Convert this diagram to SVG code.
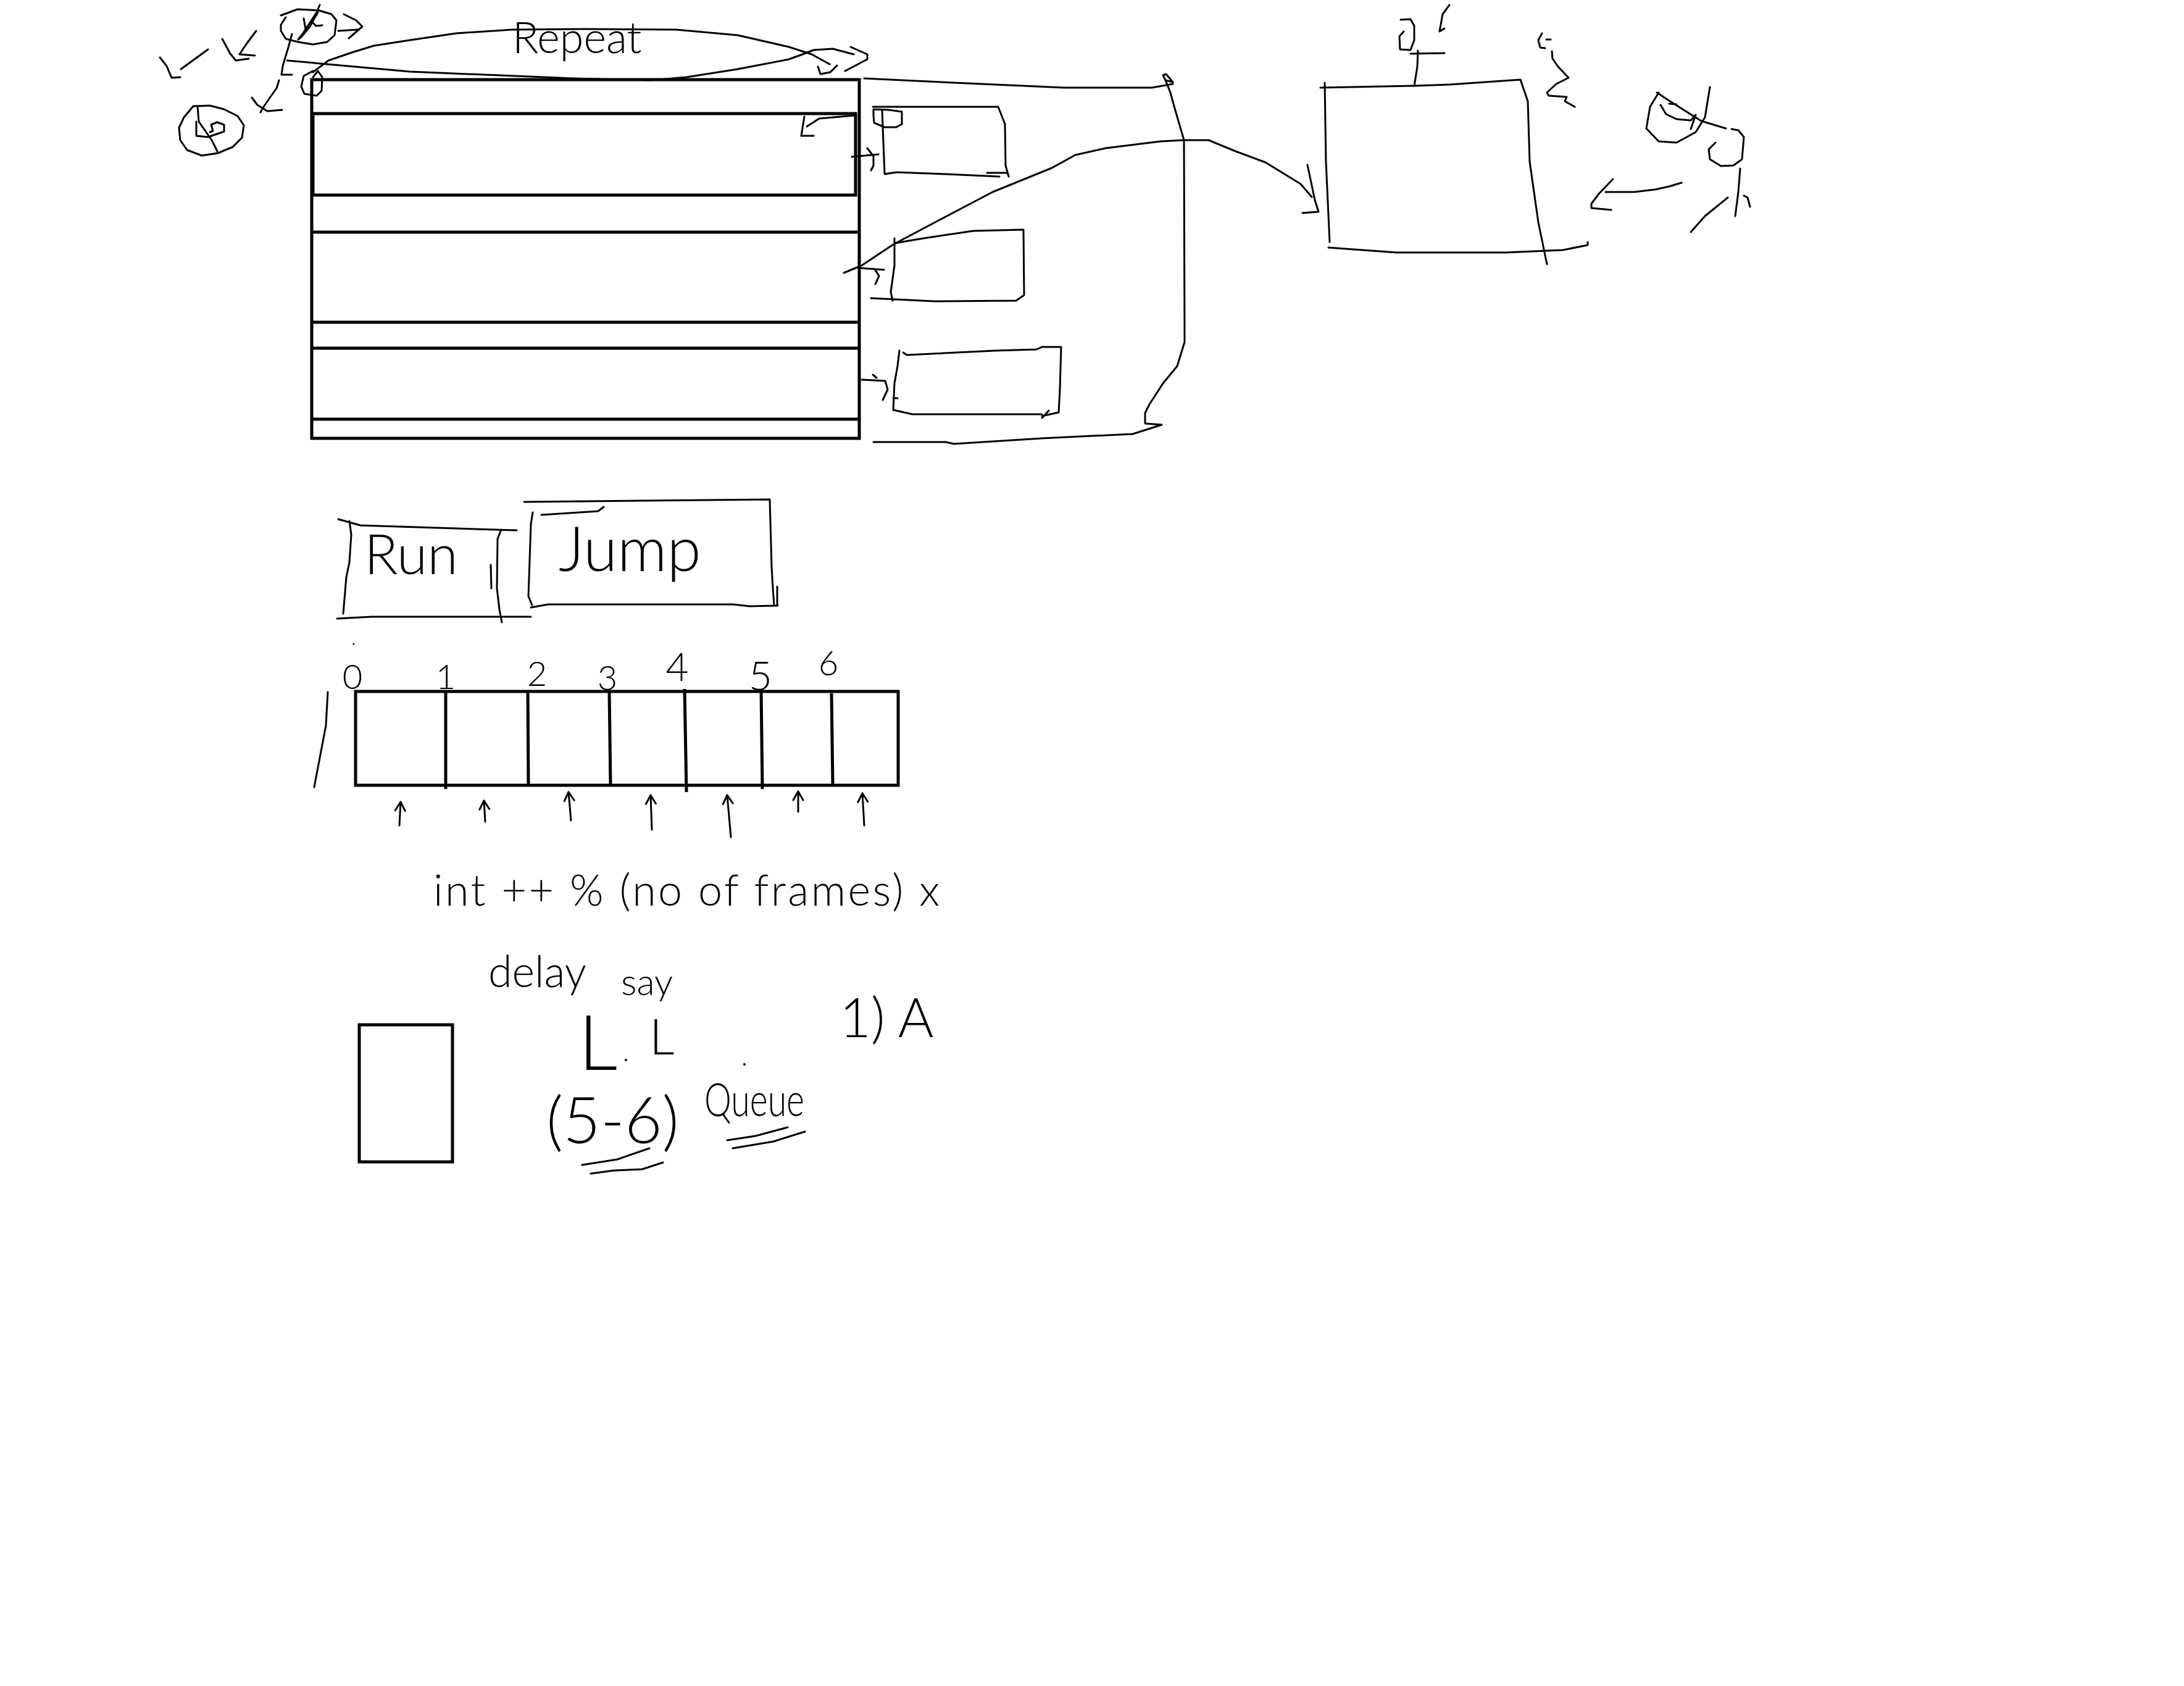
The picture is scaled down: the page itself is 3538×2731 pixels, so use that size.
<svg xmlns="http://www.w3.org/2000/svg" width="3538" height="2731" viewBox="0 0 3538 2731">
<style>
.bg{fill:#fff}
.thick{fill:none;stroke:#000;stroke-width:5;stroke-linejoin:miter}
.pen{fill:none;stroke:#000;stroke-width:3;stroke-linecap:round;stroke-linejoin:round}
.hand{font-family:Lato,"Liberation Sans","DejaVu Sans",sans-serif;font-weight:300;fill:#000}
</style>
<defs>
<marker id="up" markerUnits="userSpaceOnUse" markerWidth="24" markerHeight="24" viewBox="-20 -12 24 24" refX="0" refY="0" orient="auto">
<path d="M-14,-8 L0,0 L-14,8" fill="none" stroke="#000" stroke-width="3" stroke-linecap="round" stroke-linejoin="round"/>
</marker>
</defs>
<rect class="bg" x="0" y="0" width="3538" height="2731"/>

<g id="annotations-top-left">
<path class="pen" d="M259,93 L270,107 L278,126 L292,125 M293,112 L337,80"/>
<path class="pen" d="M360,63 L373,87 L382,98 L403,95 M415,50 L400,70 L388,88 L413,90"/>
<path class="pen" d="M455,25 L482,15 L517,17 L537,23 L545,33 L542,57 L530,68 L507,72 L483,68 L463,63 L455,50 L455,40 L463,28"/>
<path class="pen" d="M518,8 L513,20 L500,40 L490,55 L483,64 L488,60 L502,43 L508,32 L515,20 M507,37 L512,42 L522,41 M492,30 L495,47 L490,57"/>
<path class="pen" d="M548,50 L580,48 M557,23 L577,33 L587,43 L565,62"/>
<path class="pen" d="M473,55 L467,77 L458,107 L456,121 L473,121"/>
<path class="pen" d="M452,130 L448,143 L438,157 L427,173 L422,182 M408,158 L417,170 L433,180 L457,178"/>
<path class="pen" d="M313,172 L340,171 L363,177 L385,188 L395,203 L392,223 L377,238 L353,248 L327,252 L303,243 L292,227 L290,207 L298,190 L313,172"/>
<path class="pen" d="M318,197 L318,220 L337,222 L363,213 L363,202 L352,198 L342,202 L345,212 L340,214 M320,172 L322,197 L343,227 L352,245"/>
<path class="pen" d="M507,125 L515,115 L522,125 L521,147 L513,155 L493,152 L488,140 L492,123 L507,115"/>
</g>

<g id="frames-box">
<rect class="thick" x="505" y="129" width="887" height="581"/>
<rect class="thick" x="507" y="184" width="879" height="132"/>
<path class="thick" d="M505,376 L1392,376 M505,522 L1392,522 M505,564 L1392,564 M505,679 L1392,679"/>
</g>

<g id="frame-1">
<path class="pen" d="M1414,173 L1617,173 L1628,201 L1629,268 L1634,286 M1429,178 L1433,282 L1452,279 L1532,282 L1619,286 M1599,280 L1631,280"/>
<path class="pen" d="M1415,187 L1415,177 L1440,178 L1461,181 L1461,201 L1452,206 L1433,206 L1416,199 L1415,187"/>
</g>
<g id="frame-2">
<path class="pen" d="M1449,394 L1496,386 L1577,374 L1658,372 L1659,478 L1646,487 L1514,488 L1411,483 M1449,386 L1449,430 L1443,473 L1446,487"/>
</g>
<g id="frame-3">
<path class="pen" d="M1463,571 L1469,575 L1612,568 L1679,566 L1688,562 L1719,562 L1717,631 L1715,668 L1688,674 M1457,568 L1454,593 L1449,621 L1447,664 L1478,671 L1688,671 M1688,677 L1699,665 M1447,645 L1454,645"/>
</g>

<g id="sprite-box">
<path class="pen" d="M2139,142 L2291,139 L2348,137 L2463,129 L2475,164 L2478,262 L2492,360 L2506,428 M2146,134 L2148,262 L2154,392 M2152,401 L2262,409 L2440,409 L2532,405 L2572,397 L2572,392"/>
</g>

<g id="annotations-right">
<path class="pen" d="M2269,32 L2285,31 L2291,42 L2291,65 L2285,81 L2268,80 L2267,59 L2274,51 M2297,82 L2296,108 L2291,139 M2285,87 L2340,86"/>
<path class="pen" d="M2348,8 L2337,23 L2332,51 L2340,46"/>
<path class="pen" d="M2498,54 L2492,65 L2495,77 L2503,78 M2505,64 L2512,64"/>
<path class="pen" d="M2514,83 L2515,95 L2524,108 L2541,126 L2521,136 L2506,150 L2509,155 L2538,157 L2535,164 L2551,173"/>
<path class="pen" d="M2687,150 L2673,173 L2667,208 L2687,229 L2716,231 L2747,214 L2762,190 L2770,141 M2690,170 L2699,185 L2716,193 L2739,195 L2747,186 L2739,209 M2684,150 L2710,167 L2756,196 L2796,208 M2704,168 L2716,169"/>
<path class="pen" d="M2805,209 L2816,211 L2825,222 L2822,258 L2808,268 L2788,269 L2770,258 L2768,242 L2779,231"/>
<path class="pen" d="M2724,296 L2704,302 L2681,307 L2647,311 L2601,311 M2613,290 L2590,314 L2578,330 L2578,337 L2610,340"/>
<path class="pen" d="M2819,273 L2816,311 L2811,350 M2799,320 L2762,350 L2739,376 M2825,317 L2831,320 L2835,335"/>
</g>

<g id="connectors">
<path class="pen" d="M507,117 L532,98 L573,84 L606,74 L664,65 L739,54 L830,48 L946,47 L1095,48 L1195,57 L1278,76 L1315,88 L1344,104 M1325,108 L1329,120 L1345,117 L1356,106"/>
<path class="pen" d="M465,98 L664,116 L930,127 L1054,130 L1112,125 L1195,112 L1278,96 L1300,88 L1318,81 L1349,79 L1383,88 M1378,76 L1405,88 L1405,96 L1369,115"/>
<path class="pen" d="M1385,187 L1327,192 L1307,205 M1303,189 L1298,220 L1318,220"/>
<path class="pen" d="M1380,254 L1423,250 M1405,240 L1415,253 L1415,268 L1411,276"/>
<path class="pen" d="M1391,434 L1432,437 M1417,436 L1424,447 L1418,460"/>
<path class="pen" d="M1396,615 L1434,617 L1438,631 L1430,648 M1414,607 L1420,612"/>
<path class="pen" d="M1400,127 L1568,135 L1724,142 L1866,142 L1900,136 M1884,122 L1889,120 L1900,133 L1888,130 L1884,122 M1888,130 L1896,150 L1902,172 L1918,227 L1919,554 L1907,593 L1884,621 L1862,655 L1855,669 L1855,686 L1882,688 L1835,703 L1688,710 L1545,719 L1532,716 L1415,716"/>
<path class="pen" d="M1367,442 L1396,430 L1447,396 L1532,351 L1608,311 L1704,272 L1742,251 L1791,240 L1880,229 L1918,227 L1958,227 L1999,244 L2050,263 L2107,298 L2125,319 M2118,267 L2130,324 L2136,343 L2110,345"/>
</g>

<text class="hand" x="830" y="86" font-size="70">Repeat</text>

<g id="run-button">
<path class="pen" d="M548,841 L566,846 L584,851 L837,859 M566,844 L569,866 L566,911 L561,935 L556,994 M546,1002 L602,999 L860,999 M811,860 L806,873 L805,953 L809,987 L813,1008 M795,915 L796,953"/>
<text class="hand" x="590" y="930" font-size="90">Run</text>
</g>
<g id="jump-button">
<path class="pen" d="M849,813 L1247,809 L1250,918 L1252,953 L1254,980 M863,830 L860,849 L856,966 L862,980 M860,984 L888,979 L1188,979 L1214,982 L1260,981 M1259,950 L1259,981 M877,834 L969,828 L978,821"/>
<text class="hand" x="905" y="925" font-size="100">Jump</text>
</g>

<g id="frame-array">
<rect class="thick" x="576" y="1120" width="879" height="152"/>
<path class="thick" d="M722,1120 L722,1278 M855,1120 L856,1272 M987,1120 L989,1272 M1109,1116 L1112,1283 M1233,1116 L1235,1278 M1347,1123 L1349,1270"/>
<path class="pen" d="M531,1121 L528,1175 L509,1275"/>
<g class="hand" font-size="56" text-anchor="middle">
<text x="571" y="1116">0</text>
<text x="722" y="1116">1</text>
<text x="870" y="1111">2</text>
<text x="984" y="1118">3</text>
<text x="1097" y="1103" font-size="64">4</text>
<text x="1232" y="1118" font-size="66">5</text>
<text x="1342" y="1094">6</text>
</g>
<circle cx="573" cy="1043" r="1.5" fill="#000"/>
</g>

<g id="index-arrows">
<path class="pen" marker-end="url(#up)" d="M647,1337 L649,1299"/>
<path class="pen" marker-end="url(#up)" d="M786,1331 L784,1297"/>
<path class="pen" marker-end="url(#up)" d="M925,1329 L921,1283"/>
<path class="pen" marker-end="url(#up)" d="M1056,1344 L1054,1288"/>
<path class="pen" marker-end="url(#up)" d="M1184,1356 L1178,1288"/>
<path class="pen" marker-end="url(#up)" d="M1293,1315 L1293,1282"/>
<path class="pen" marker-end="url(#up)" d="M1400,1337 L1397,1285"/>
</g>

<g id="notes">
<text class="hand" x="702" y="1467" font-size="70" textLength="820" lengthAdjust="spacing">int ++ % (no of frames) x</text>
<text class="hand" x="791" y="1599" font-size="70">delay</text>
<text class="hand" x="1006" y="1612" font-size="60">say</text>
<text class="hand" x="937" y="1733" font-size="125">L</text>
<text class="hand" x="1052" y="1708" font-size="80">L</text>
<circle cx="1014" cy="1717" r="2" fill="#000"/>
<circle cx="1206" cy="1724" r="2" fill="#000"/>
<text class="hand" x="1360" y="1680" font-size="88">1) A</text>
<text class="hand" x="885" y="1852" font-size="105">(5-6)</text>
<path class="pen" d="M943,1887 L1000,1878 L1052,1860 M957,1901 L994,1896 L1040,1894 L1074,1883"/>
<text class="hand" x="1141" y="1808" font-size="75" textLength="162" lengthAdjust="spacingAndGlyphs">Queue</text>
<path class="pen" d="M1178,1847 L1224,1840 L1276,1826 M1187,1860 L1253,1849 L1304,1833"/>
</g>

<g id="queue-box">
<rect class="thick" x="582" y="1660" width="151" height="222"/>
</g>
</svg>
